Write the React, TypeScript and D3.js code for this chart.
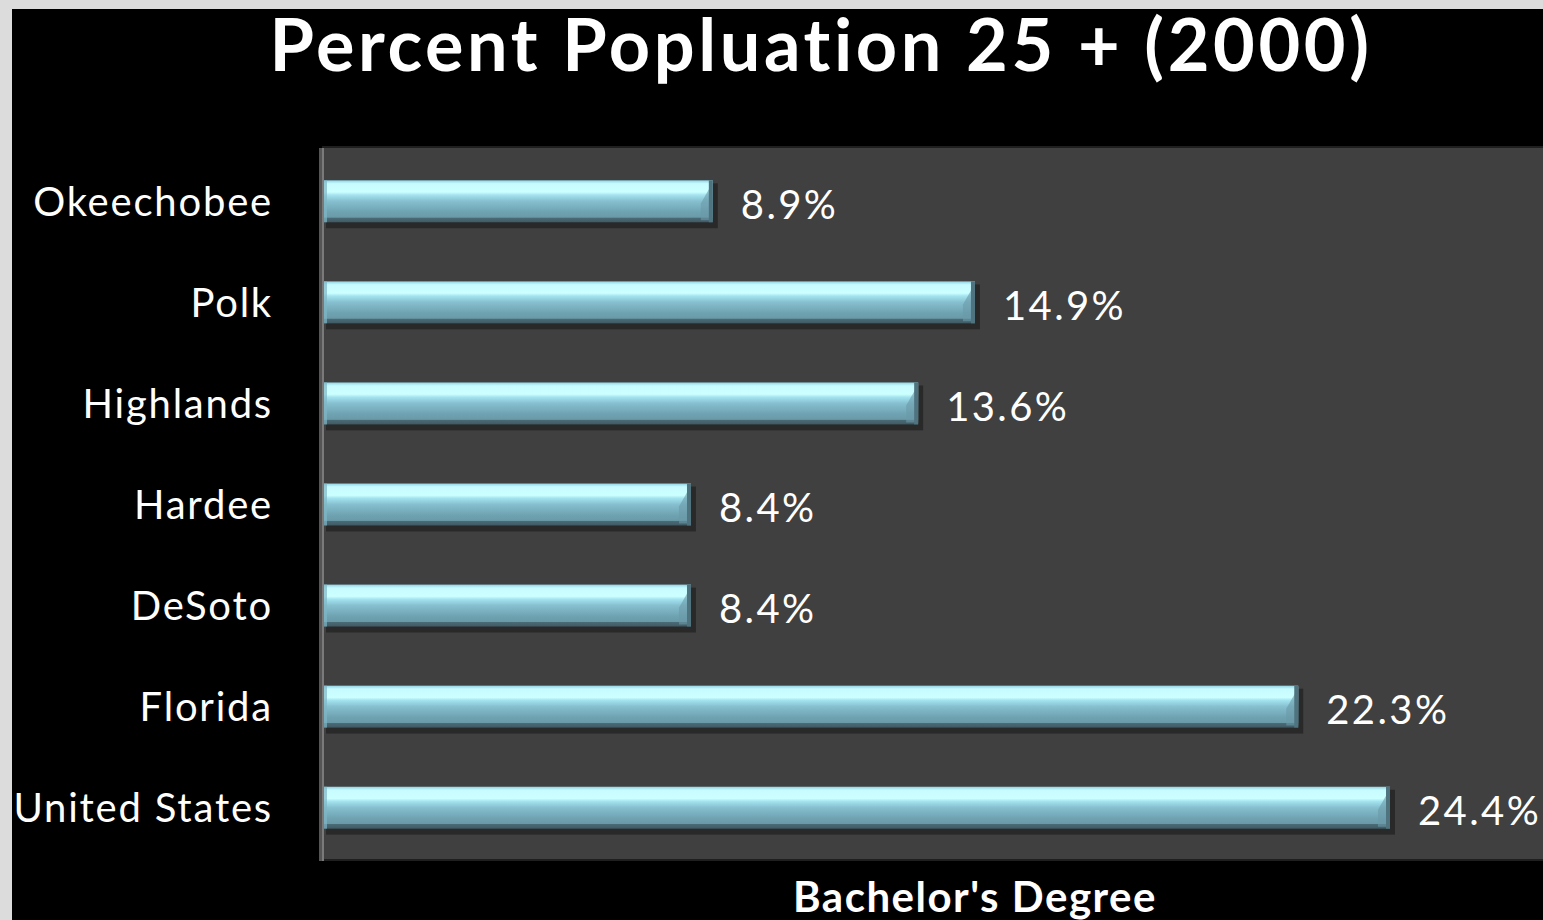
import React from "react";
import * as d3 from "d3";

const categories = ["Okeechobee", "Polk", "Highlands", "Hardee", "DeSoto", "Florida", "United States"];
const values = [8.9, 14.9, 13.6, 8.4, 8.4, 22.3, 24.4];
const valueLabels = ["8.9%", "14.9%", "13.6%", "8.4%", "8.4%", "22.3%", "24.4%"];
const title = "Percent Popluation 25 + (2000)";
const axisTitle = "Bachelor's Degree";

export default function App() {
  const W = 1543, H = 920;
  const plot = { x0: 322, x1: 1543, y0: 148, y1: 861 };
  const x = d3.scaleLinear().domain([0, 24.4]).range([324, 1390]);
  const y = d3.scaleBand<string>().domain(categories).range([plot.y0 + 2, plot.y1 - 2]).paddingInner(0.585).paddingOuter(0.3);
  const font = "Lato, 'Open Sans', sans-serif";
  const noLig = { fontVariantLigatures: "none" as const };
  return (
    <svg width={W} height={H} style={{ position: "absolute", left: 0, top: 0, display: "block" }}>
      <defs>
        <linearGradient id="barG" x1="0" y1="0" x2="0" y2="1">
          <stop offset="0" stopColor="#8fd3e3" />
          <stop offset="0.08" stopColor="#c8fbff" />
          <stop offset="0.28" stopColor="#ccffff" />
          <stop offset="0.35" stopColor="#a3e3f0" />
          <stop offset="0.5" stopColor="#86bfcf" />
          <stop offset="0.75" stopColor="#6fa3b2" />
          <stop offset="0.88" stopColor="#6a9aa8" />
          <stop offset="0.9" stopColor="#4a6a76" />
          <stop offset="1" stopColor="#3f5a64" />
        </linearGradient>
      </defs>
      <rect x={0} y={0} width={W} height={H} fill="#dcdcdc" />
      <rect x={12} y={9} width={W - 12} height={H - 9} fill="#000" />
      <rect x={plot.x0} y={plot.y0 - 2} width={plot.x1 - plot.x0} height={plot.y1 - plot.y0 + 2} fill="#1f1f1f" />
      <rect x={plot.x0} y={plot.y0} width={plot.x1 - plot.x0} height={plot.y1 - plot.y0 - 2} fill="#404040" />
      <rect x={plot.x0 - 3} y={plot.y0} width={3} height={plot.y1 - plot.y0} fill="#555" />
      <rect x={plot.x0} y={plot.y0} width={2} height={plot.y1 - plot.y0} fill="#7a7a7a" />
      <text x={821} y={71} textAnchor="middle" fill="#fff" fontFamily={font} fontWeight={700} fontSize={72} letterSpacing={3.6} style={noLig}>{title}</text>
      {categories.map((c, i) => {
        const by = y(c)!;
        const bh = y.bandwidth();
        const bx = x(0);
        const bw = x(values[i]) - x(0);
        return (
          <g key={c}>
            <rect x={bx + 2} y={by + 3} width={bw + 3} height={bh + 3} fill="#000" opacity={0.35} />
            <rect x={bx} y={by} width={bw} height={bh} fill="url(#barG)" />
            <polygon points={`${bx + bw - 12},${by + bh * 0.55} ${bx + bw},${by + 2} ${bx + bw},${by + bh - 2} ${bx + bw - 12},${by + bh - 2}`} fill="#6a9aa8" opacity={0.6} />
            <rect x={bx + bw - 4} y={by} width={4} height={bh} fill="#4f7480" />
            <rect x={bx} y={by} width={3} height={bh} fill="#7fb6c6" opacity={0.7} />
            <text x={273} y={by + bh / 2} dy="0.36em" textAnchor="end" fill="#fff" fontFamily={font} fontSize={40} letterSpacing={1.8} style={noLig}>{c}</text>
            <text x={x(values[i]) + 28} y={by + bh / 2 + 3} dy="0.36em" textAnchor="start" fill="#fff" fontFamily={font} fontSize={40} letterSpacing={2.4} style={noLig}>{valueLabels[i]}</text>
          </g>
        );
      })}
      <text x={975} y={912} textAnchor="middle" fill="#fff" fontFamily={font} fontWeight={700} fontSize={42} letterSpacing={1.5} style={noLig}>{axisTitle}</text>
    </svg>
  );
}
